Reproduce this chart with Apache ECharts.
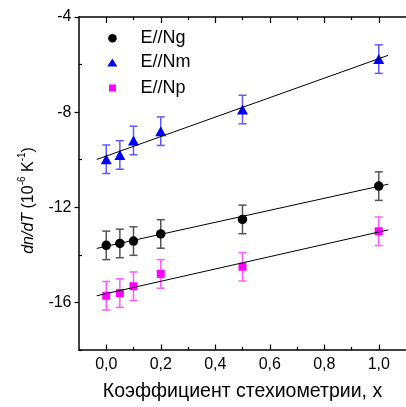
<!DOCTYPE html>
<html>
<head>
<meta charset="utf-8">
<script src="https://cdn.jsdelivr.net/npm/echarts@6/dist/echarts.min.js"></script>
<style>html,body{margin:0;padding:0;background:#fff}#c{width:406px;height:407px}</style>
</head>
<body>
<div id="c"></div>
<script>
// x values (stoichiometry coefficient)
const xVals = [0, 0.05, 0.1, 0.2, 0.5, 1.0];
// dn/dT values, 10^-6 K^-1
const ngVals = [-13.60, -13.52, -13.42, -13.12, -12.51, -11.11];
const nmVals = [-9.98, -9.80, -9.19, -8.80, -7.89, -5.77];
const npVals = [-15.72, -15.61, -15.32, -14.80, -14.50, -13.01];
// error bars (half-length)
const ngErr = [0.6, 0.6, 0.6, 0.6, 0.6, 0.6];
const nmErr = [0.6, 0.6, 0.6, 0.6, 0.6, 0.6];
const npErr = [0.6, 0.6, 0.6, 0.6, 0.6, 0.6];
// linear fit line endpoints
const fitX = [-0.035, 1.035];
const ngFit = [-13.73, -11.03];
const nmFit = [-9.99, -5.61];
const npFit = [-15.72, -12.95];
// ticks
const xMajorTicks = [0, 0.2, 0.4, 0.6, 0.8, 1.0];
const xMinorTicks = [0.1, 0.3, 0.5, 0.7, 0.9];
const yMajorTicks = [-16, -12, -8, -4];
const yMinorTicks = [-18, -14, -10, -6];
const seriesNames = ['E//Ng', 'E//Nm', 'E//Np'];

const FONT = 'Liberation Sans, Arial, sans-serif';
const chart = echarts.init(document.getElementById('c'), null, {renderer: 'canvas'});

function pts(ys) { return xVals.map((x, i) => [x, ys[i]]); }
function errPts(ys, es) { return xVals.map((x, i) => [x, ys[i], es[i]]); }
function fitPts(ys) { return fitX.map((x, i) => [x, ys[i]]); }

function errRender(color) {
  return function (params, api) {
    const x = api.value(0), y = api.value(1), e = api.value(2);
    const hi = api.coord([x, y + e]);
    const lo = api.coord([x, y - e]);
    const w = 4;
    const style = {stroke: color, lineWidth: 1.5};
    return {
      type: 'group',
      children: [
        {type: 'line', shape: {x1: hi[0], y1: hi[1], x2: lo[0], y2: lo[1]}, style: style},
        {type: 'line', shape: {x1: hi[0] - w, y1: hi[1], x2: hi[0] + w, y2: hi[1]}, style: style},
        {type: 'line', shape: {x1: lo[0] - w, y1: lo[1], x2: lo[0] + w, y2: lo[1]}, style: style}
      ]
    };
  };
}

const axisLineStyle = {color: '#000', width: 1.5};
const xBase = {type: 'value', min: -0.1, max: 1.1, gridIndex: 0, splitLine: {show: false}};
const yBase = {type: 'value', min: -18, max: -4, gridIndex: 0, splitLine: {show: false}};

function legendItem(name, icon, top, left, w, h, pad) {
  return {
    data: [{name: name, icon: icon}],
    orient: 'vertical', left: left, top: top, padding: 0,
    itemWidth: w, itemHeight: h,
    textStyle: {fontSize: 18, fontFamily: FONT, color: '#000', padding: [0, 0, 0, pad], lineHeight: 20},
    selectedMode: false
  };
}

const option = {
  animation: false,
  backgroundColor: '#fff',
  grid: {left: 79, top: 17, width: 336, height: 333},
  legend: [
    legendItem(seriesNames[0], 'circle', 28.3, 108.2, 8.5, 8.5, 18.8),
    legendItem(seriesNames[1], 'triangle', 52.5, 107.3, 10, 8, 18.2),
    legendItem(seriesNames[2], 'rect', 78, 109, 7, 7, 19.5)
  ],
  xAxis: [
    Object.assign({}, xBase, {
      position: 'bottom',
      axisLine: {show: true, onZero: false, lineStyle: axisLineStyle},
      axisTick: {show: true, inside: true, length: 5.5, customValues: xMajorTicks, lineStyle: {color: '#000', width: 1.2}},
      axisLabel: {show: true, customValues: xMajorTicks, margin: 6.5, fontSize: 16, fontFamily: FONT, color: '#000',
        formatter: v => v.toFixed(1).replace('.', ',')},
      name: 'Коэффициент стехиометрии, x',
      nameLocation: 'middle', nameGap: 32,
      nameTextStyle: {fontSize: 19.5, fontFamily: FONT, color: '#000'}
    }),
    Object.assign({}, xBase, {
      position: 'bottom',
      axisLine: {show: false, onZero: false},
      axisTick: {show: true, inside: true, length: 3, customValues: xMinorTicks, lineStyle: {color: '#000', width: 1.2}},
      axisLabel: {show: false}
    }),
    Object.assign({}, xBase, {
      position: 'top',
      axisLine: {show: true, onZero: false, lineStyle: axisLineStyle},
      axisTick: {show: true, inside: true, length: 6, customValues: xMajorTicks, lineStyle: {color: '#000', width: 1.2}},
      axisLabel: {show: false}
    }),
    Object.assign({}, xBase, {
      position: 'top',
      axisLine: {show: false, onZero: false},
      axisTick: {show: true, inside: true, length: 3, customValues: xMinorTicks, lineStyle: {color: '#000', width: 1.2}},
      axisLabel: {show: false}
    })
  ],
  yAxis: [
    Object.assign({}, yBase, {
      position: 'left',
      axisLine: {show: true, onZero: false, lineStyle: axisLineStyle},
      axisTick: {show: true, inside: false, length: 4.5, customValues: yMajorTicks, lineStyle: {color: '#000', width: 1.2}},
      axisLabel: {show: true, customValues: yMajorTicks, margin: 7.5, fontSize: 16, fontFamily: FONT, color: '#000',
        formatter: v => String(v)},
      name: '{i|dn/dT} {n|(10}{s|-6}{n| K}{s|-1}{n|)}',
      nameLocation: 'middle', nameGap: 42, nameRotate: 90,
      nameTextStyle: {
        fontSize: 16, fontFamily: FONT, color: '#000', padding: [0, 34, 0, 0],
        rich: {
          i: {fontSize: 16, fontStyle: 'italic', fontFamily: FONT, color: '#000', lineHeight: 20, verticalAlign: 'bottom'},
          n: {fontSize: 16, fontFamily: FONT, color: '#000', lineHeight: 20, verticalAlign: 'bottom'},
          s: {fontSize: 10, fontFamily: FONT, color: '#000', lineHeight: 20, verticalAlign: 'top'}
        }
      }
    }),
    Object.assign({}, yBase, {
      position: 'left',
      axisLine: {show: false, onZero: false},
      axisTick: {show: true, inside: true, length: 3, customValues: yMinorTicks, lineStyle: {color: '#000', width: 1.2}},
      axisLabel: {show: false}
    })
  ],
  series: [
    {name: 'errNg', type: 'custom', xAxisIndex: 0, yAxisIndex: 0, renderItem: errRender('#555555'),
      data: errPts(ngVals, ngErr), encode: {x: 0, y: 1}, z: 2, silent: true},
    {name: 'errNm', type: 'custom', xAxisIndex: 0, yAxisIndex: 0, renderItem: errRender('#5a5aff'),
      data: errPts(nmVals, nmErr), encode: {x: 0, y: 1}, z: 2, silent: true},
    {name: 'errNp', type: 'custom', xAxisIndex: 0, yAxisIndex: 0, renderItem: errRender('#ff5aff'),
      data: errPts(npVals, npErr), encode: {x: 0, y: 1}, z: 2, silent: true},
    {name: seriesNames[0], type: 'scatter', symbol: 'circle', symbolSize: 9.5,
      itemStyle: {color: '#000', opacity: 1}, data: pts(ngVals), z: 3},
    {name: seriesNames[1], type: 'scatter', symbol: 'triangle', symbolSize: [11, 10],
      itemStyle: {color: '#0000ff', opacity: 1}, data: pts(nmVals), z: 3},
    {name: seriesNames[2], type: 'scatter', symbol: 'rect', symbolSize: 8,
      itemStyle: {color: '#ff00ff', opacity: 1}, data: pts(npVals), z: 3},
    {name: 'fitNg', type: 'line', data: fitPts(ngFit), showSymbol: false, symbol: 'none',
      lineStyle: {color: '#000', width: 1}, z: 4, silent: true},
    {name: 'fitNm', type: 'line', data: fitPts(nmFit), showSymbol: false, symbol: 'none',
      lineStyle: {color: '#000', width: 1}, z: 4, silent: true},
    {name: 'fitNp', type: 'line', data: fitPts(npFit), showSymbol: false, symbol: 'none',
      lineStyle: {color: '#000', width: 1}, z: 4, silent: true}
  ]
};
chart.setOption(option);
</script>
</body>
</html>
